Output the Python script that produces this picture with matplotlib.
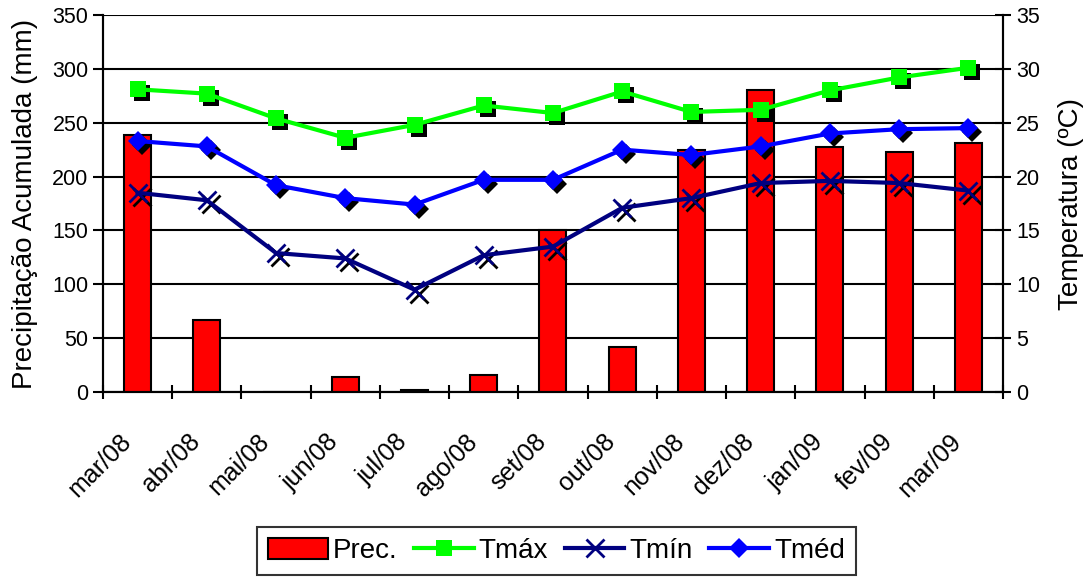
import matplotlib
matplotlib.use('Agg')
import matplotlib.pyplot as plt
import matplotlib.transforms as mtransforms
import numpy as np

plt.rcParams['font.family'] = ['Liberation Sans', 'DejaVu Sans']

# Monthly data, mar/08 to mar/09
months = ['mar/08', 'abr/08', 'mai/08', 'jun/08', 'jul/08', 'ago/08', 'set/08',
          'out/08', 'nov/08', 'dez/08', 'jan/09', 'fev/09', 'mar/09']
prec = [239, 67, 0, 14, 1.5, 16, 150, 42, 225, 280, 227, 223, 231]
tmax = [28.1, 27.7, 25.4, 23.6, 24.8, 26.6, 25.9, 27.9, 26.0, 26.2, 28.0, 29.2, 30.1]
tmin = [18.5, 17.8, 12.9, 12.4, 9.5, 12.7, 13.5, 17.1, 18.0, 19.4, 19.6, 19.4, 18.7]
tmed = [23.3, 22.8, 19.2, 18.0, 17.4, 19.7, 19.7, 22.5, 22.0, 22.8, 24.0, 24.4, 24.5]

x = np.arange(len(months))

fig = plt.figure(figsize=(10.91, 5.77), dpi=100)
ax = fig.add_axes([0.0944, 0.3206, 0.8249, 0.6534])
ax2 = ax.twinx()

# precipitation bars
bars = ax.bar(x, prec, width=0.39, color='#ff0000', edgecolor='black',
              linewidth=1.5, zorder=3, label='Prec.')
ax.set_ylim(0, 350)
ax.set_yticks(np.arange(0, 351, 50))
ax.set_xlim(-0.5, len(months) - 0.5)
ax.yaxis.grid(True, color='black', linewidth=1.5, zorder=0)
ax.set_axisbelow(True)

# category ticks between months, labels in the middle
ax.set_xticks(np.arange(-0.5, len(months), 1.0))
ax.set_xticklabels([])
ax.set_xticks(x, minor=True)
ax.set_xticklabels(months, minor=True, rotation=45, ha='right',
                   rotation_mode='anchor', fontsize=18)
ax.tick_params(axis='x', which='major', direction='inout', length=10, width=1.5)
ax.tick_params(axis='x', which='minor', length=0, pad=12)
ax.tick_params(axis='y', direction='out', length=7, width=1.5, labelsize=15.5)
lbl_shift = mtransforms.ScaledTranslation(-0.19, -0.21, fig.dpi_scale_trans)
for lbl in ax.get_xticklabels(minor=True):
    lbl.set_transform(lbl.get_transform() + lbl_shift)

ax.set_ylabel('Precipitação Acumulada (mm)', fontsize=20, labelpad=10)

# temperature lines with drop shadow on the markers
shadow = ax2.transData + mtransforms.ScaledTranslation(0.04, -0.04, fig.dpi_scale_trans)
series = [
    (tmax, '#00ff00', 's', 12, 'Tmáx'),
    (tmin, '#000080', 'x', 13, 'Tmín'),
    (tmed, '#0000ff', 'D', 10, 'Tméd'),
]
handles = [bars]
for vals, col, mk, ms, name in series:
    ax2.plot(x, vals, linestyle='none', marker=mk, markersize=ms,
             color='black', markeredgewidth=2 if mk == 'x' else 0,
             transform=shadow, zorder=2)
    ln, = ax2.plot(x, vals, color=col, linewidth=3, marker=mk, markersize=ms,
                   markeredgewidth=2 if mk == 'x' else 0, zorder=3, label=name)
    handles.append(ln)

ax2.set_ylim(0, 35)
ax2.set_yticks(np.arange(0, 36, 5))
ax2.tick_params(axis='y', direction='inout', length=12, width=1.5, labelsize=15.5)
ax2.set_ylabel('Temperatura (ºC)', fontsize=20, labelpad=13)

for a in (ax, ax2):
    a.spines['top'].set_visible(False)
    for s in ('left', 'right', 'bottom'):
        a.spines[s].set_linewidth(1.5)

leg = fig.legend(handles, [h.get_label() for h in handles], loc='lower center',
                 bbox_to_anchor=(0.51, -0.021), ncol=4, fontsize=20, frameon=True,
                 fancybox=False, edgecolor='black', handlelength=2.15,
                 handleheight=0.75, handletextpad=0.18, columnspacing=0.6,
                 borderpad=0.4)
leg.get_frame().set_linewidth(1.5)

fig.savefig('out.png', dpi=100)
